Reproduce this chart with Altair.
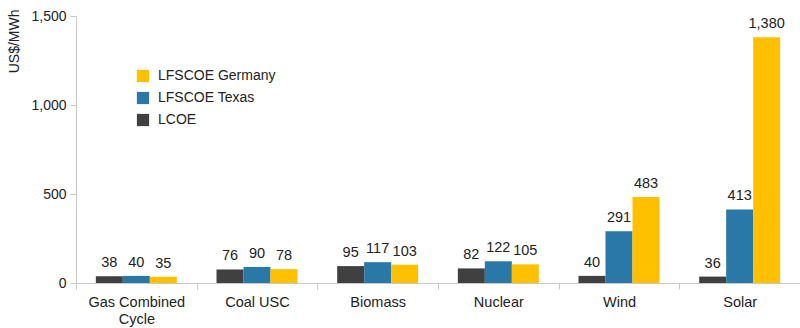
import altair as alt
import pandas as pd

categories = ["Gas Combined Cycle", "Coal USC", "Biomass", "Nuclear", "Wind", "Solar"]
lcoe = [38, 76, 95, 82, 40, 36]
texas = [40, 90, 117, 122, 291, 413]
germany = [35, 78, 103, 105, 483, 1380]
series = ["LCOE", "LFSCOE Texas", "LFSCOE Germany"]
legend_order = ["LFSCOE Germany", "LFSCOE Texas", "LCOE"]
colors = {"LCOE": "#404040", "LFSCOE Texas": "#2a78a8", "LFSCOE Germany": "#ffc000"}

rows = []
for i, c in enumerate(categories):
    for s, vals in zip(series, [lcoe, texas, germany]):
        rows.append({"cat": c, "series": s, "value": vals[i]})
df = pd.DataFrame(rows)

font = "Liberation Sans"

x = alt.X("cat:N", sort=categories, title=None,
          scale=alt.Scale(paddingInner=0, paddingOuter=0),
          axis=alt.Axis(labelAngle=0, tickBand="extent", labelFontSize=14.5,
                        labelColor="#222222", labelFont=font, domainColor="#c8c8c8",
                        tickColor="#c8c8c8", tickSize=6, labelPadding=6,
                        labelExpr="datum.value == 'Gas Combined Cycle' ? ['Gas Combined', 'Cycle'] : datum.value",
                        labelLineHeight=17))
xo = alt.XOffset("series:N", sort=series,
                 scale=alt.Scale(paddingInner=0, paddingOuter=0.735))
y = alt.Y("value:Q", title="US$/MWh",
          scale=alt.Scale(domain=[0, 1500], nice=False),
          axis=alt.Axis(values=[0, 500, 1000, 1500], format=",.0f", grid=False,
                        labelFontSize=14, labelColor="#222222", labelFont=font,
                        domainColor="#c8c8c8", tickColor="#c8c8c8", tickSize=6,
                        labelPadding=4, titleFont=font, titleFontSize=14,
                        titleFontWeight="normal", titleColor="#222222",
                        titleAngle=-90, titleAlign="right", titleBaseline="middle",
                        titleX=-62, titleY=-7))

color = alt.Color("series:N",
                  scale=alt.Scale(domain=legend_order, range=[colors[s] for s in legend_order]),
                  legend=alt.Legend(title=None, orient="none", legendX=60, legendY=53,
                                    symbolType="square", symbolSize=150, symbolStrokeWidth=0,
                                    labelFontSize=14, labelFont=font, labelColor="#222222",
                                    rowPadding=8, labelOffset=8))

bars = alt.Chart(df).mark_bar().encode(x=x, xOffset=xo, y=y, color=color)
labels = alt.Chart(df).mark_text(baseline="bottom", dy=-6, fontSize=14.5, font=font,
                                 color="#222222").encode(
    x=x, xOffset=xo, y=y, text=alt.Text("value:Q", format=",.0f"))

chart = (bars + labels).properties(
    width=724, height=267,
    autosize=alt.AutoSizeParams(type="none"),
    padding={"left": 76, "top": 16, "right": 0, "bottom": 45},
).configure_view(stroke=None)

chart.save("out.html", embed_options={"renderer": "svg", "actions": False})
